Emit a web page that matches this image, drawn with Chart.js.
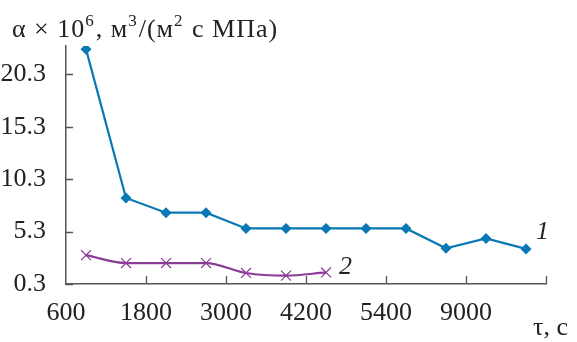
<!DOCTYPE html>
<html>
<head>
<meta charset="utf-8">
<script src="https://cdn.jsdelivr.net/npm/chart.js@4/dist/chart.umd.min.js"></script>
<style>
  html, body { margin: 0; padding: 0; background: #fff; }
  #wrap { width: 577px; height: 342px; position: relative; }
</style>
</head>
<body>
<div id="wrap"><canvas id="alphaChart" width="577" height="342"></canvas></div>
<script>
// x positions are category indexes; every second boundary carries a time label
var pointIdx1 = [0.5, 1.5, 2.5, 3.5, 4.5, 5.5, 6.5, 7.5, 8.5, 9.5, 10.5, 11.5];
var series1 = [22.7, 8.5, 7.1, 7.1, 5.6, 5.6, 5.6, 5.6, 5.6, 3.7, 4.65, 3.65];
var pointIdx2 = [0.5, 1.5, 2.5, 3.5, 4.5, 5.5, 6.5];
var series2 = [3.05, 2.3, 2.3, 2.3, 1.35, 1.1, 1.4];
var xTickLabels = ['600', '1800', '3000', '4200', '5400', '9000', ''];
var yTicks = [0.3, 5.3, 10.3, 15.3, 20.3];

var serif = '"Liberation Serif", "DejaVu Serif", serif';
var axisColor = '#555555';
var blue = '#0a78b5';
var purple = '#8a3c97';

function toPoints(xs, ys) {
  var out = [];
  for (var i = 0; i < ys.length; i++) out.push({ x: xs[i], y: ys[i] });
  return out;
}

// inward tick marks + free text (title, curve numbers, axis name)
var decorPlugin = {
  id: 'decor',
  afterDraw: function (chart) {
    var ctx = chart.ctx;
    var xs = chart.scales.x, ys = chart.scales.y;
    var area = chart.chartArea;
    ctx.save();
    ctx.strokeStyle = axisColor;
    ctx.lineWidth = 1.3;
    ctx.beginPath();
    for (var i = 1; i < xTickLabels.length; i++) {
      var px = Math.round(xs.getPixelForValue(i * 2)) + 0.5;
      ctx.moveTo(px, area.bottom);
      ctx.lineTo(px, area.bottom - 8);
    }
    yTicks.forEach(function (v) {
      var py = Math.round(ys.getPixelForValue(v)) + 0.5;
      ctx.moveTo(area.left, py);
      ctx.lineTo(area.left + 7, py);
    });
    ctx.stroke();

    ctx.fillStyle = '#222';
    ctx.textBaseline = 'alphabetic';
    ctx.textAlign = 'left';
    // title with superscripts
    var parts = [
      ['α × 10', false], ['6', true], [', м', false], ['3', true],
      ['/(м', false], ['2', true], [' с МПа)', false]
    ];
    var x = 12, base = 37;
    ctx.letterSpacing = '1px';
    parts.forEach(function (p) {
      ctx.font = (p[1] ? '17px ' : '26px ') + serif;
      ctx.fillText(p[0], x, p[1] ? base - 11 : base);
      x += ctx.measureText(p[0]).width + (p[1] ? 1 : 0);
    });
    ctx.letterSpacing = '0px';

    ctx.font = 'italic 26px ' + serif;
    ctx.fillText('1', 536, 239);
    ctx.fillText('2', 339, 274);

    ctx.font = '26px ' + serif;
    ctx.fillText('τ, с', 533, 335);
    ctx.restore();
  }
};

new Chart(document.getElementById('alphaChart').getContext('2d'), {
  type: 'line',
  data: {
    datasets: [{
      data: toPoints(pointIdx1, series1),
      borderColor: blue,
      backgroundColor: blue,
      borderWidth: 2.2,
      pointStyle: 'rectRot',
      pointRadius: 5.5,
      pointBorderWidth: 0,
      tension: 0
    }, {
      data: toPoints(pointIdx2, series2),
      borderColor: purple,
      backgroundColor: purple,
      borderWidth: 2.2,
      pointStyle: 'crossRot',
      pointRadius: 7,
      pointBorderWidth: 1.2,
      cubicInterpolationMode: 'monotone'
    }]
  },
  options: {
    responsive: false,
    animation: false,
    layout: { padding: { top: 46, right: 31, left: 0, bottom: 0 } },
    plugins: { legend: { display: false }, tooltip: { enabled: false } },
    scales: {
      x: {
        type: 'linear',
        min: 0,
        max: 12,
        afterFit: function (s) { s.height = 58; },
        afterBuildTicks: function (s) {
          s.ticks = xTickLabels.map(function (t, i) { return { value: i * 2 }; });
        },
        grid: { display: false },
        border: { display: true, color: axisColor, width: 1.5 },
        ticks: {
          padding: 6,
          maxRotation: 0,
          autoSkip: false,
          color: '#222',
          font: { family: serif, size: 26 },
          callback: function (v) { return xTickLabels[Math.round(v / 2)]; }
        }
      },
      y: {
        min: 0.3,
        max: 23,
        afterFit: function (s) { s.width = 66; },
        afterBuildTicks: function (s) {
          s.ticks = yTicks.map(function (v) { return { value: v }; });
        },
        grid: { display: false },
        border: { display: true, color: axisColor, width: 1.5 },
        ticks: {
          padding: 12,
          color: '#222',
          font: { family: serif, size: 26 },
          callback: function (v) { return v.toFixed(1); }
        }
      }
    }
  },
  plugins: [decorPlugin]
});
</script>
</body>
</html>
